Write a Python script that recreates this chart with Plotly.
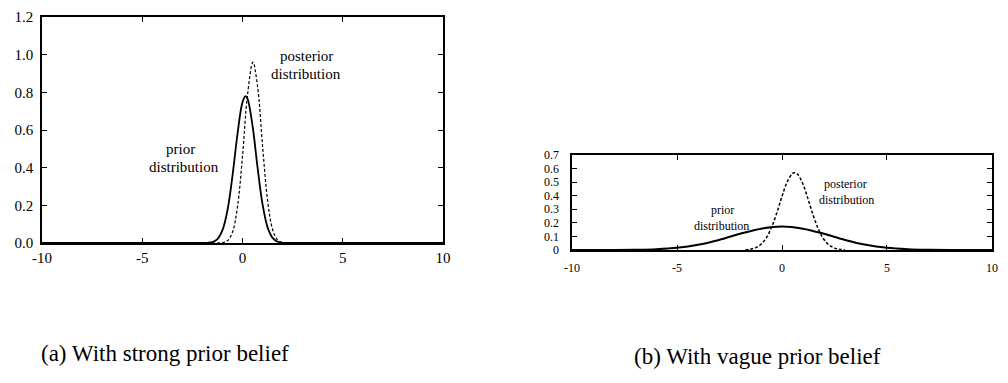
import plotly.graph_objects as go

# ---- data ----
# (a) strong prior belief
a_prior_x = [-10, -2, -1.75, -1.5, -1.25, -1, -0.75, -0.5, -0.25, 0, 0.15, 0.25, 0.5, 0.75, 1, 1.25, 1.5, 1.75, 2, 2.5, 10]
a_prior_y = [0, 0.0002, 0.001, 0.005, 0.021, 0.068, 0.174, 0.357, 0.580, 0.748, 0.78, 0.766, 0.622, 0.401, 0.205, 0.083, 0.027, 0.007, 0.001, 0, 0]
a_post_x = [-10, -1.25, -1, -0.75, -0.5, -0.25, 0, 0.25, 0.52, 0.75, 1, 1.25, 1.5, 1.75, 2, 2.25, 10]
a_post_y = [0, 0, 0.002, 0.012, 0.058, 0.193, 0.462, 0.788, 0.96, 0.832, 0.515, 0.227, 0.072, 0.016, 0.003, 0, 0]

# (b) vague prior belief
b_prior_x = [-10, -9, -8, -7, -6, -5, -4, -3, -2, -1, 0, 1, 2, 3, 4, 5, 6, 7, 8, 9, 10]
b_prior_y = [0, 0, 0.0004, 0.002, 0.006, 0.016, 0.038, 0.074, 0.119, 0.157, 0.173,
             0.157, 0.119, 0.074, 0.038, 0.016, 0.006, 0.002, 0.0004, 0, 0]
b_post_x = [-1.75, -1.5, -1.25, -1, -0.75, -0.5, -0.25, 0, 0.25, 0.5, 0.6, 0.75, 1, 1.25, 1.5, 1.75, 2, 2.25, 2.5, 2.75, 3]
b_post_y = [0, 0.006, 0.017, 0.042, 0.089, 0.166, 0.273, 0.395, 0.503, 0.564, 0.57, 0.557, 0.484,
            0.370, 0.249, 0.148, 0.077, 0.035, 0.014, 0.005, 0]

x_ticks = [-10, -5, 0, 5, 10]
x_labels = ["-10", "-5", "0", "5", "10"]
a_y_ticks = [0, 0.2, 0.4, 0.6, 0.8, 1.0, 1.2]
a_y_labels = ["0.0", "0.2", "0.4", "0.6", "0.8", "1.0", "1.2"]
b_y_ticks = [0, 0.1, 0.2, 0.3, 0.4, 0.5, 0.6, 0.7]
b_y_labels = ["0", "0.1", "0.2", "0.3", "0.4", "0.5", "0.6", "0.7"]

caption_a = "(a) With strong prior belief"
caption_b = "(b) With vague prior belief"

SERIF = "Liberation Serif, Times New Roman, serif"

fig = go.Figure()
fig.add_trace(go.Scatter(x=a_prior_x, y=a_prior_y, mode="lines", line=dict(color="black", width=1.8, shape="spline"),
                         xaxis="x", yaxis="y", showlegend=False))
fig.add_trace(go.Scatter(x=a_post_x, y=a_post_y, mode="lines", line=dict(color="black", width=1.2, dash="3px,2px", shape="spline"),
                         xaxis="x", yaxis="y", showlegend=False))
fig.add_trace(go.Scatter(x=b_prior_x, y=b_prior_y, mode="lines", line=dict(color="black", width=2, shape="spline"),
                         xaxis="x2", yaxis="y2", showlegend=False))
fig.add_trace(go.Scatter(x=b_post_x, y=b_post_y, mode="lines", line=dict(color="black", width=1.5, dash="3px,2px", shape="spline"),
                         xaxis="x2", yaxis="y2", showlegend=False))

axis_common = dict(showline=True, linecolor="black", linewidth=1.5, mirror="ticks", ticks="inside",
                   ticklen=5, tickcolor="black", tickwidth=1.2, showgrid=False, zeroline=False, automargin=False)

fig.update_layout(
    template="none",
    width=1008, height=383,
    margin=dict(l=0, r=0, t=0, b=0),
    paper_bgcolor="white", plot_bgcolor="white",
    showlegend=False,
    xaxis=dict(domain=[0.0417, 0.4395], range=[-10, 10], tickvals=x_ticks, ticktext=x_labels, anchor="y",
               ticklabelstandoff=0, tickfont=dict(family=SERIF, size=15, color="black"), **axis_common),
    yaxis=dict(domain=[0.3655, 0.9556], range=[0, 1.2], tickvals=a_y_ticks, ticktext=a_y_labels, anchor="x",
               ticklabelstandoff=4, tickfont=dict(family=SERIF, size=15, color="black"), **axis_common),
    xaxis2=dict(domain=[0.5675, 0.9841], range=[-10, 10], tickvals=x_ticks, ticktext=x_labels, anchor="y2",
                ticklabelstandoff=6, tickfont=dict(family=SERIF, size=12, color="black"), **axis_common),
    yaxis2=dict(domain=[0.3473, 0.5953], range=[0, 0.7], tickvals=b_y_ticks, ticktext=b_y_labels, anchor="x2",
                ticklabelstandoff=9, tickfont=dict(family=SERIF, size=12, color="black"), **axis_common),
)

ann = []
def label(text, x, y, xref, yref, size, yanchor):
    ann.append(dict(text=text, x=x, y=y, xref=xref, yref=yref, showarrow=False, borderpad=0,
                    font=dict(family=SERIF, size=size, color="black"), xanchor="center", yanchor=yanchor))

label("prior", -3.1, 0.45, "x", "y", 15, "bottom")
label("distribution", -2.9, 0.45, "x", "y", 15, "top")
label("posterior", 3.17, 0.945, "x", "y", 15, "bottom")
label("distribution", 3.17, 0.945, "x", "y", 15, "top")

label("prior", -2.85, 0.235, "x2", "y2", 12, "bottom")
label("distribution", -2.9, 0.235, "x2", "y2", 12, "top")
label("posterior", 3.03, 0.43, "x2", "y2", 12, "bottom")
label("distribution", 3.08, 0.43, "x2", "y2", 12, "top")

ann.append(dict(text=caption_a, x=165 / 1008, y=1 - 353 / 383, xref="paper", yref="paper", showarrow=False,
                font=dict(family=SERIF, size=23, color="black"), xanchor="center", yanchor="middle"))
ann.append(dict(text=caption_b, x=757 / 1008, y=1 - 356 / 383, xref="paper", yref="paper", showarrow=False,
                font=dict(family=SERIF, size=23, color="black"), xanchor="center", yanchor="middle"))
fig.update_layout(annotations=ann)

fig.write_html("out.html")
